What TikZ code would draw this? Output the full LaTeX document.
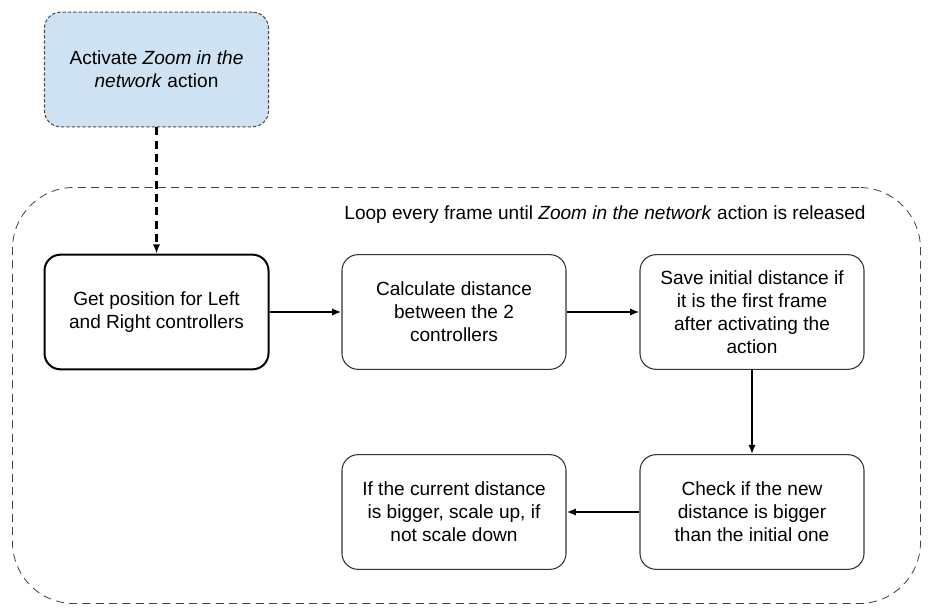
\documentclass[tikz,border=0pt]{standalone}
\usepackage{fontspec}
\setmainfont{Liberation Sans}
\usetikzlibrary{arrows.meta}
\definecolor{startblue}{HTML}{CFE2F3}
\definecolor{edgegray}{HTML}{333333}
\tikzset{
stepbox/.style={draw=edgegray, line width=0.8pt, rounded corners=12pt, align=center,
  minimum width=168pt, minimum height=86pt, inner sep=2pt, font=\fontsize{14.3}{17.3}\selectfont},
startbox/.style={stepbox, fill=startblue, draw=black!70, dash pattern=on 2.5pt off 1.5pt},
loopbox/.style={draw=black!75, line width=0.6pt, dash pattern=on 6pt off 4pt, rounded corners=46pt,
  minimum width=681pt, minimum height=312pt},
flow/.style={-{Latex[length=7pt,width=5.5pt]}, line width=1.6pt, black}}

\begin{document}
\begin{tikzpicture}[x=0.75pt, y=-0.75pt]
    \useasboundingbox (0,0) rectangle (932,610);

                \node[loopbox] (L) at (466.5,395.5) {};
                \node[font=\fontsize{14.3}{17}\selectfont] (T) at (605,215) {Loop every frame until \textit{Zoom in the network} action is released};

                \node[startbox] (S) at (156.5,69.5) {Activate \textit{Zoom in the}\\\textit{network} action};
                \node[stepbox, line width=1.5pt, draw=black] (A) at (156.5,312) {Get position for Left\\and Right controllers};
                \node[stepbox] (B) at (454,312) {Calculate distance\\between the 2\\controllers};
                \node[stepbox] (C) at (752,312) {Save initial distance if\\it is the first frame\\after activating the\\action};
                \node[stepbox] (D) at (752,512) {Check if the new\\distance is bigger\\than the initial one};
                \node[stepbox] (E) at (454,512) {If the current distance\\is bigger, scale up, if\\not scale down};

                \draw[flow, dash pattern=on 6pt off 4pt] (S) -- (A);
                \draw[flow] (A) -- (B);
                \draw[flow] (B) -- (C);
                \draw[flow] (C) -- (D);
                \draw[flow] (D) -- (E);

            \end{tikzpicture}
\end{document}
